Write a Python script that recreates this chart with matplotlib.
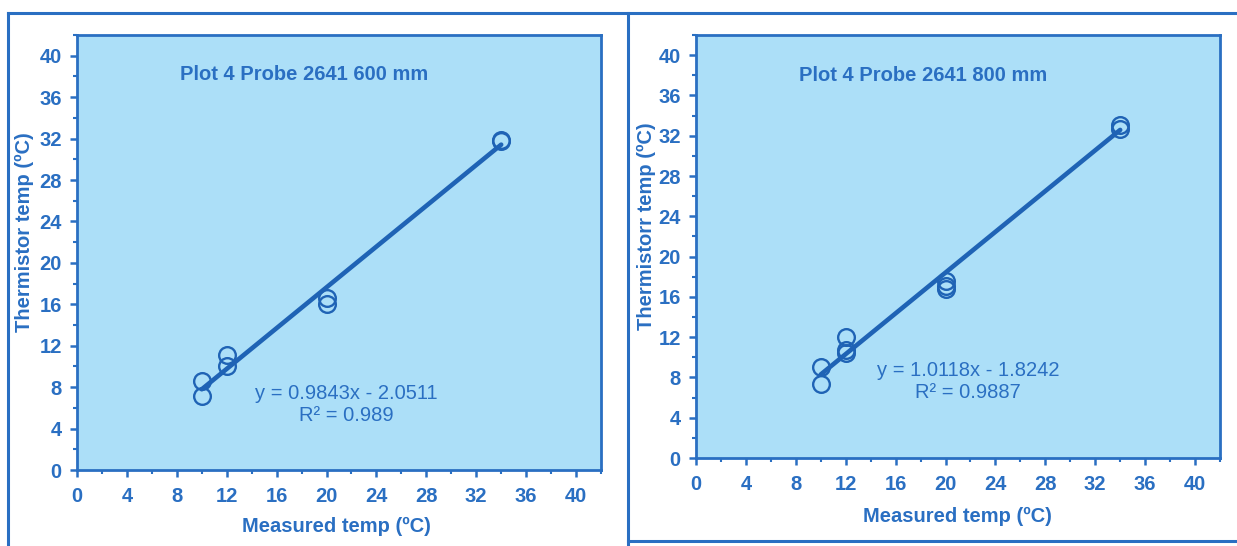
import matplotlib
matplotlib.use("Agg")
import matplotlib.pyplot as plt
from matplotlib.ticker import MultipleLocator
from matplotlib.lines import Line2D

# Probe 2641, 600 mm depth
measured_600 = [10, 10, 12, 12, 20, 20, 34, 34]
thermistor_600 = [8.6, 7.1, 11.1, 10.0, 16.6, 16.0, 31.8, 31.9]
slope_600, intercept_600, r2_600 = 0.9843, -2.0511, 0.989

# Probe 2641, 800 mm depth
measured_800 = [10, 10, 12, 12, 12, 20, 20, 20, 34, 34]
thermistor_800 = [9.0, 7.3, 12.0, 10.7, 10.4, 17.6, 16.8, 17.1, 33.1, 32.7]
slope_800, intercept_800, r2_800 = 1.0118, -1.8242, 0.9887

tick_values = [0, 4, 8, 12, 16, 20, 24, 28, 32, 36, 40]

BLUE = "#2a6fc2"
LINE_BLUE = "#1f63b5"
FACE = "#acdff8"
W, H = 1237, 546

plt.rcParams["font.family"] = ["Liberation Sans", "DejaVu Sans"]

fig = plt.figure(figsize=(W / 100, H / 100), dpi=100)
fig.patch.set_facecolor("white")


def px_axes(left, top, right, bottom):
    return fig.add_axes([left / W, 1 - bottom / H, (right - left) / W, (bottom - top) / H])


def draw_panel(ax, x, y, slope, intercept, r2, title, ylabel, eq_xy,
               xlabel_pos, ylabel_pos, title_pos):
    ax.set_facecolor(FACE)
    ax.set_xlim(0, 42)
    ax.set_ylim(0, 42)
    ax.set_xticks(tick_values)
    ax.set_yticks(tick_values)
    ax.xaxis.set_minor_locator(MultipleLocator(2))
    ax.yaxis.set_minor_locator(MultipleLocator(2))
    for s in ax.spines.values():
        s.set_color(BLUE)
        s.set_linewidth(2)
    ax.tick_params(which="major", direction="out", length=5, width=1.8, color=BLUE,
                   labelcolor=BLUE, labelsize=14.5, pad=6)
    ax.tick_params(which="minor", direction="out", length=3, width=1.5, color=BLUE)
    ax.tick_params(axis="x", which="major", pad=7)
    for lab in ax.get_xticklabels() + ax.get_yticklabels():
        lab.set_fontweight("bold")

    xs = [min(x), max(x)]
    ax.plot(xs, [slope * v + intercept for v in xs], color=LINE_BLUE, lw=3.3,
            solid_capstyle="round", zorder=3)
    ax.plot(x, y, linestyle="none", marker="o", markersize=12, mfc="none",
            mec=LINE_BLUE, mew=1.7, zorder=4)

    ax.text(title_pos[0], title_pos[1], title, transform=ax.transAxes,
            ha="center", va="center", color=BLUE, fontsize=14.5, fontweight="bold")
    sign = "-" if intercept < 0 else "+"
    ax.text(eq_xy[0], eq_xy[1],
            f"y = {slope:.4f}x {sign} {abs(intercept):.4f}\nR\u00b2 = {r2:g}",
            transform=ax.transData, ha="center", va="center", color=BLUE,
            fontsize=14.5, linespacing=1.18)
    ax.set_xlabel("Measured temp (\u00baC)", color=BLUE, fontsize=14.5,
                  fontweight="bold")
    ax.set_ylabel(ylabel, color=BLUE, fontsize=14.5, fontweight="bold")
    ax.xaxis.set_label_coords(*xlabel_pos)
    ax.yaxis.set_label_coords(*ylabel_pos)


ax1 = px_axes(77, 35, 601, 470)
draw_panel(ax1, measured_600, thermistor_600, slope_600, intercept_600, r2_600,
           "Plot 4 Probe 2641 600 mm", "Thermistor temp (\u00baC)", (21.6, 6.3),
           (0.496, -0.108), (-0.083, 0.547), (0.433, 0.91))

ax2 = px_axes(696, 35, 1220, 458)
draw_panel(ax2, measured_800, thermistor_800, slope_800, intercept_800, r2_800,
           "Plot 4 Probe 2641 800 mm", "Thermistorr temp (\u00baC)", (21.8, 7.6),
           (0.498, -0.116), (-0.076, 0.548), (0.433, 0.905))

# panel frames
frame_kw = dict(color=BLUE, lw=2.2, transform=fig.transFigure, clip_on=False)
fig.add_artist(Line2D([8 / W, 1], [1 - 13 / H, 1 - 13 / H], **frame_kw))
fig.add_artist(Line2D([8 / W, 8 / W], [0, 1 - 13 / H], **frame_kw))
fig.add_artist(Line2D([628 / W, 628 / W], [0, 1 - 13 / H], **frame_kw))
fig.add_artist(Line2D([628 / W, 1], [1 - 541 / H, 1 - 541 / H], **frame_kw))

fig.savefig("out.png", dpi=100, facecolor="white")
